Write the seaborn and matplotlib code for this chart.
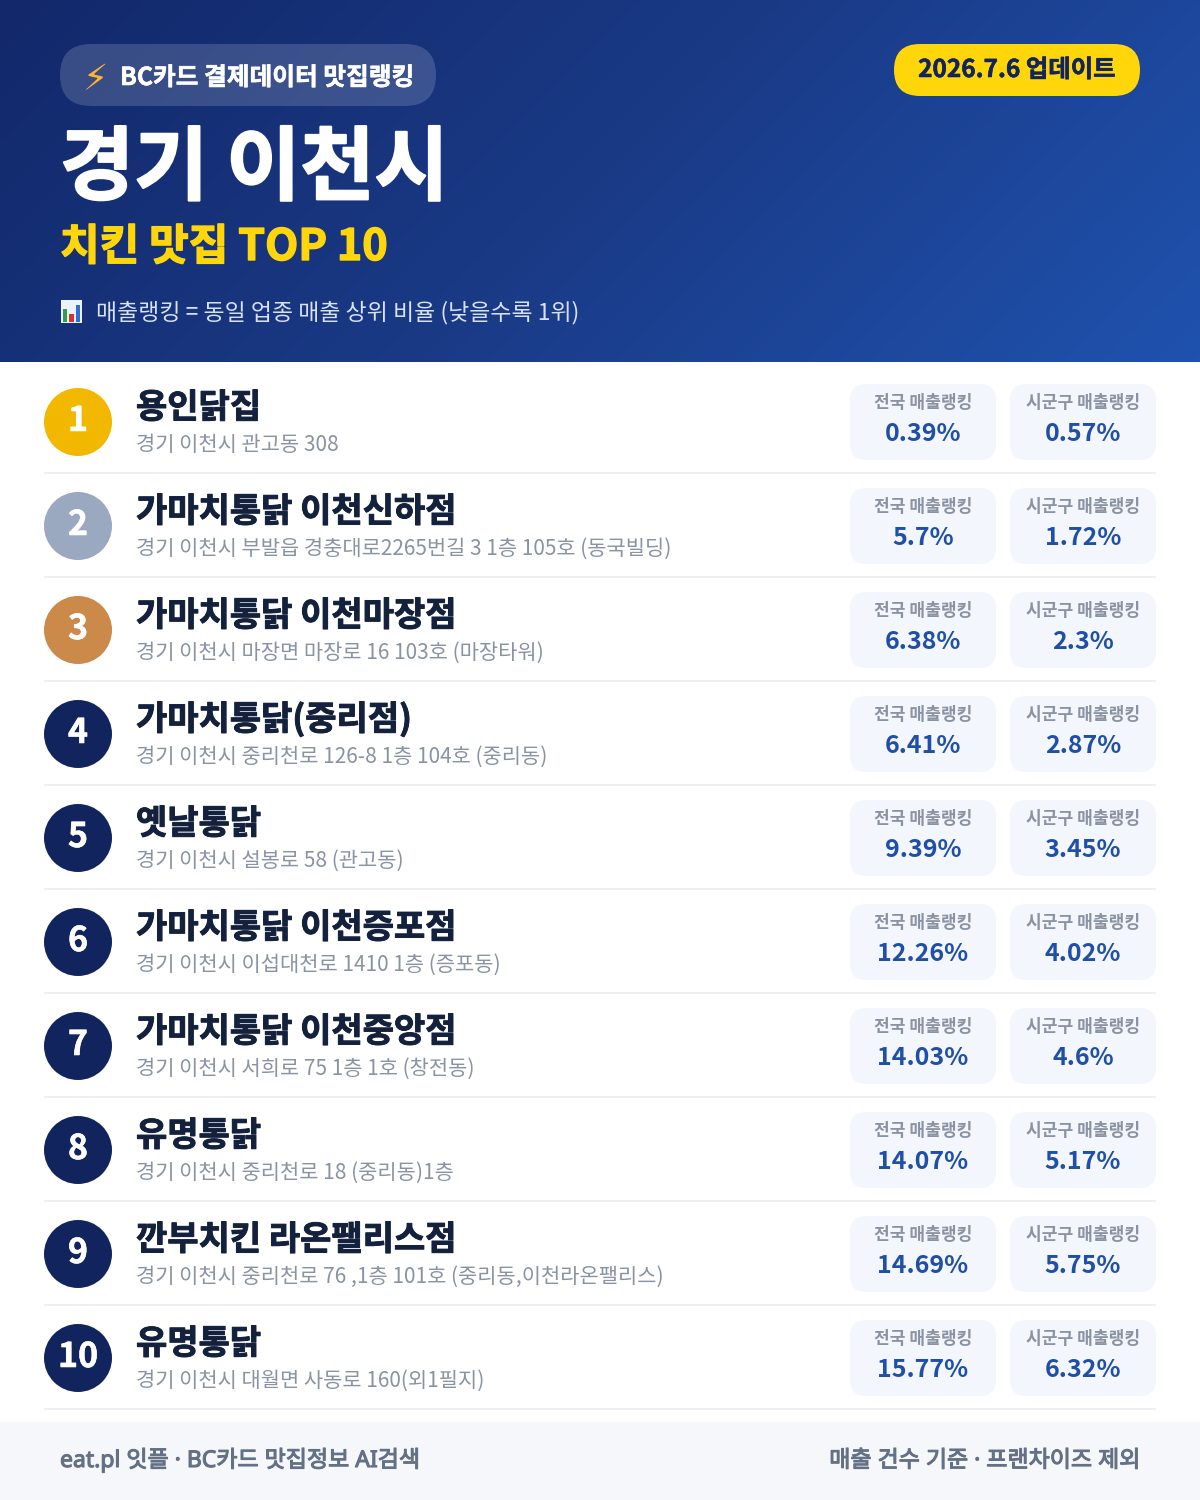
import numpy as np
import pandas as pd
import matplotlib
matplotlib.use("Agg")
import matplotlib.pyplot as plt
import matplotlib.patheffects as pe
import seaborn as sns
from matplotlib.colors import LinearSegmentedColormap
from matplotlib.patches import FancyBboxPatch, Rectangle

ranks = [1, 2, 3, 4, 5, 6, 7, 8, 9, 10]
names = ["용인닭집", "가마치통닭 이천신하점", "가마치통닭 이천마장점", "가마치통닭(중리점)", "옛날통닭",
         "가마치통닭 이천증포점", "가마치통닭 이천중앙점", "유명통닭", "깐부치킨 라온팰리스점", "유명통닭"]
addresses = ["경기 이천시 관고동 308",
             "경기 이천시 부발읍 경충대로2265번길 3 1층 105호 (동국빌딩)",
             "경기 이천시 마장면 마장로 16 103호 (마장타워)",
             "경기 이천시 중리천로 126-8 1층 104호 (중리동)",
             "경기 이천시 설봉로 58 (관고동)",
             "경기 이천시 이섭대천로 1410 1층 (증포동)",
             "경기 이천시 서희로 75 1층 1호 (창전동)",
             "경기 이천시 중리천로 18 (중리동)1층",
             "경기 이천시 중리천로 76 ,1층 101호 (중리동,이천라온팰리스)",
             "경기 이천시 대월면 사동로 160(외1필지)"]
national = [0.39, 5.7, 6.38, 6.41, 9.39, 12.26, 14.03, 14.07, 14.69, 15.77]
local = [0.57, 1.72, 2.3, 2.87, 3.45, 4.02, 4.6, 5.17, 5.75, 6.32]
rank_colors = ["#f2b800", "#9aa8c0", "#cb8a4a"] + ["#12245e"] * 7

W, H = 1200, 1500
ROW = 104

sns.set_theme(style="white")
plt.rcParams["font.family"] = ["Noto Sans CJK KR", "DejaVu Sans"]


def px(size):
    return size * 0.72


def label(x, y, s, size, color, weight="normal", ha="left", stroke=0, **kw):
    t = ax.text(x, y, s, fontsize=px(size), color=color, fontweight=weight, ha=ha, va="baseline", **kw)
    if stroke:
        # the installed bold is lighter than the original's black weight
        t.set_path_effects([pe.withStroke(linewidth=stroke, foreground=color)])
    return t


def rounded(x0, y0, x1, y1, r, color, alpha=1.0, z=2):
    ax.add_patch(FancyBboxPatch((x0, y0), x1 - x0, y1 - y0, boxstyle=f"round,pad=0,rounding_size={r}",
                                fc=color, ec="none", alpha=alpha, zorder=z))


fig = plt.figure(figsize=(12, 15), dpi=100, facecolor="white")
ax = fig.add_axes([0, 0, 1, 1])
ax.set_xlim(0, W)
ax.set_ylim(H, 0)
ax.axis("off")

# header gradient
gx, gy = np.meshgrid(np.linspace(0, 1, 400), np.linspace(0, 1, 120))
cmap = LinearSegmentedColormap.from_list("head", ["#12286a", "#1a3a86", "#1f52ae"])
ax.imshow((gx * 1200 + gy * 362) / 1562, extent=[0, W, 362, 0], cmap=cmap, aspect="auto", zorder=0)
ax.set_xlim(0, W)
ax.set_ylim(H, 0)

rounded(60, 44, 436, 106, 31, "white", alpha=0.16)
label(95, 90, "⚡", 36, "#ffb52e", ha="center", family=["DejaVu Sans"])
label(120, 85, "BC카드 결제데이터 맛집랭킹", 24.7, "white", "bold", stroke=0.4)

rounded(894, 44, 1140, 96, 26, "#ffd60a")
label(1017, 77, "2026.7.6 업데이트", 24.4, "#12245e", "bold", ha="center", stroke=0.4)

label(60, 193.5, "경기 이천시", 80.5, "white", "bold", stroke=1.5)
label(60, 260, "치킨 맛집 TOP 10", 43.1, "#ffd60a", "bold", stroke=1.0)

# small chart icon for the note line
ax.add_patch(Rectangle((61, 300), 21, 23, fc="#eef2f8", ec="none", zorder=2))
ax.add_patch(Rectangle((63, 309), 4, 13, fc="#2e9e4f", ec="none", zorder=3))
ax.add_patch(Rectangle((69, 314), 5, 8, fc="#d8322f", ec="none", zorder=3))
ax.add_patch(Rectangle((76, 305), 4, 17, fc="#2f6fd0", ec="none", zorder=3))
label(96, 319, "매출랭킹 = 동일 업종 매출 상위 비율 (낮을수록 1위)", 22.9, "#d7e2f6")

# rows
rows = pd.DataFrame({"rank": ranks, "x": 78, "y": [422 + ROW * i for i in range(len(ranks))]})
sns.scatterplot(data=rows, x="x", y="y", hue="rank", palette=rank_colors, s=px(68) ** 2, linewidth=0,
                legend=False, ax=ax, zorder=3)
ax.set_xlabel("")
ax.set_ylabel("")

for i, r in enumerate(ranks):
    dy = ROW * i
    label(78, 431 + dy, str(r), 34, "white", "bold", ha="center", stroke=0.4, zorder=4)
    label(136, 418 + dy, names[i], 34, "#14213d", "bold", stroke=0.7)
    label(136, 451 + dy, addresses[i], 20.9, "#8a93a3")
    ax.add_patch(Rectangle((44, 472 + dy), 1112, 2, fc="#eef0f3", ec="none", zorder=1))
    for x0, x1, title, val in [(850, 996, "전국 매출랭킹", national[i]), (1010, 1156, "시군구 매출랭킹", local[i])]:
        rounded(x0, 384 + dy, x1, 460 + dy, 16, "#f3f6fc")
        mid = (x0 + x1) / 2
        label(mid, 407.5 + dy, title, 17.1, "#8a93a3", "bold", ha="center", zorder=4)
        label(mid, 441 + dy, f"{val:g}%", 25, "#1f4fa8", "bold", ha="center", zorder=4)

# footer
ax.add_patch(Rectangle((0, 1422), W, 78, fc="#f5f7fb", ec="none", zorder=1))
foot_font = ["Noto Sans", "Noto Sans CJK KR"]
label(60, 1467, "eat.pl 잇플 · BC카드 맛집정보 AI검색", 23, "#647084", stroke=0.8, family=foot_font)
label(1140, 1467, "매출 건수 기준 · 프랜차이즈 제외", 23, "#647084", ha="right", stroke=0.8, family=foot_font)

fig.savefig("out.png", dpi=100)
